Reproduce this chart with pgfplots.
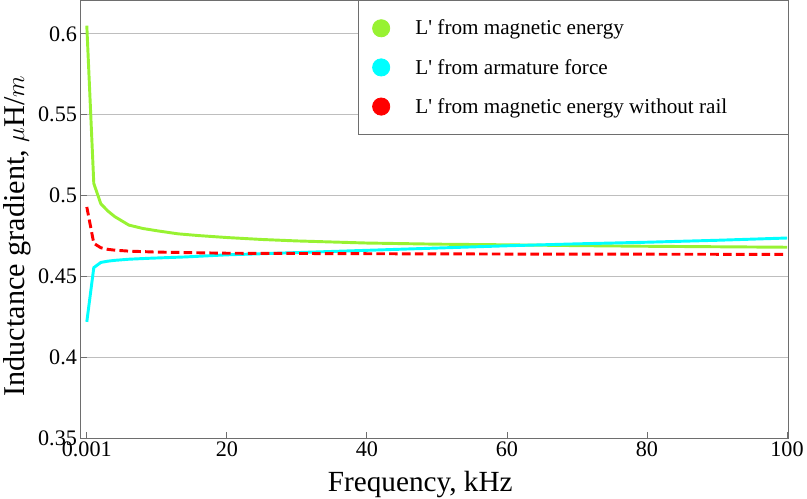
\documentclass[border=0pt]{standalone}
\usepackage{fontspec}
\setmainfont{Liberation Serif}
\usepackage{pgfplots}
\pgfplotsset{compat=1.18}
\definecolor{lgreen}{RGB}{152,242,50}
\definecolor{lcyan}{RGB}{0,255,255}
\definecolor{lred}{RGB}{255,0,0}
\definecolor{axgray}{RGB}{110,110,110}
\definecolor{gridgray}{RGB}{190,190,190}

% L' from magnetic energy
\pgfplotstableread{
f L
0.001 0.605
1 0.5075
2 0.4950
3 0.4905
4 0.4870
6 0.4818
8 0.4797
10 0.4783
13 0.4764
16 0.4753
20 0.4741
25 0.4729
30 0.4720
40 0.4707
50 0.4700
60 0.4696
70 0.4691
80 0.4687
90 0.4684
100 0.4681
}\magdata

% L' from armature force
\pgfplotstableread{
f L
0.001 0.4220
1 0.4555
2 0.4587
3 0.4595
4 0.4600
6 0.4607
9 0.4613
14 0.4621
20 0.4634
30 0.4648
40 0.4662
50 0.4676
60 0.4690
70 0.4702
80 0.4712
90 0.4724
100 0.4738
}\forcedata

% L' from magnetic energy without rail
\pgfplotstableread{
f L
0.001 0.4930
1 0.4705
2 0.4678
3 0.4668
4 0.4663
6 0.4657
10 0.4651
20 0.4644
40 0.4641
60 0.4639
80 0.4638
100 0.4637
}\norail

\begin{document}
\begin{tikzpicture}
\begin{axis}[
    scale only axis,
    width=700bp,
    height=433bp,
    xmin=-0.9, xmax=100.2,
    ymin=0.35, ymax=0.6206,
    xtick={0.001,20,40,60,80,100},
    xticklabels={0.001,20,40,60,80,100},
    ytick={0.35,0.4,0.45,0.5,0.55,0.6},
    yticklabels={0.35,0.4,0.45,0.5,0.55,0.6},
    /pgf/number format/assume math mode=true,
    tick align=inside,
    xtick pos=bottom,
    ytick pos=left,
    major tick length=6bp,
    tick style={axgray, line width=0.8bp},
    axis line style={axgray, line width=0.9bp},
    ymajorgrids,
    grid style={gridgray, line width=0.9bp},
    ticklabel style={font=\fontsize{22}{26}\selectfont},
    xlabel={Frequency, kHz},
    ylabel={Inductance gradient, $\mu$H/$m$},
    xlabel style={font=\fontsize{29}{34}\selectfont, inner sep=0pt,
        at={(axis description cs:0.48,0)}, anchor=base, yshift=-53bp},
    ylabel style={font=\fontsize{30}{35}\selectfont, inner sep=3bp,
        at={(axis description cs:-0.090,0.462)}, anchor=center},
    legend style={at={(1,1)}, anchor=north east, draw=axgray, line width=0.8bp,
        fill=white, font=\fontsize{21}{25}\selectfont,
        inner xsep=14bp, inner ysep=17bp, row sep=18.5bp},
    legend cell align=left,
    legend image code/.code={\fill[#1] (8.5bp,0) circle (8.5bp); \path (40bp,0);},
]
\addlegendimage{lgreen}
\addlegendentry{L\textquotesingle{} from magnetic energy}
\addlegendimage{lcyan}
\addlegendentry{L\textquotesingle{} from armature force}
\addlegendimage{lred}
\addlegendentry{L\textquotesingle{} from magnetic energy without rail\hspace*{44bp}}

\addplot[lgreen, line width=2.9bp, forget plot] table[x=f, y=L] {\magdata};
\addplot[lcyan, line width=2.9bp, forget plot] table[x=f, y=L] {\forcedata};
\addplot[lred, line width=2.9bp, dash pattern=on 8.5bp off 4.2bp, forget plot] table[x=f, y=L] {\norail};
\path (rel axis cs:0,1) -- ++(0,4bp);
\end{axis}
\end{tikzpicture}
\end{document}
